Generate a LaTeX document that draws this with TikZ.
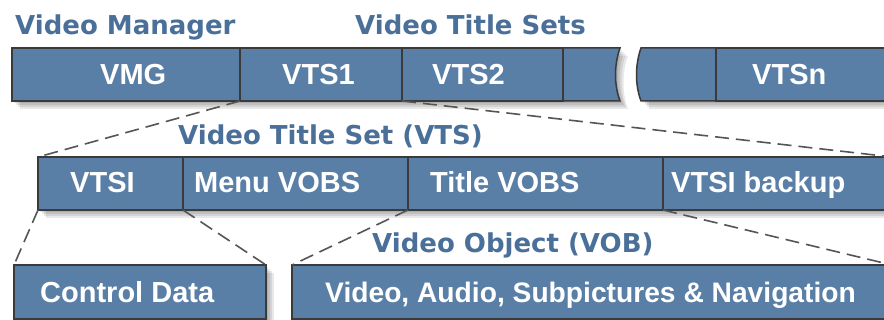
\documentclass[tikz,border=0pt]{standalone}
\usepackage{fontspec}
\setmainfont{Liberation Sans}
\newfontfamily\titlefont{DejaVu Sans}
\definecolor{boxblue}{RGB}{90,127,166}
\definecolor{titleblue}{RGB}{74,112,153}
\definecolor{edgegray}{RGB}{58,58,58}
\definecolor{dashgray}{RGB}{85,85,85}
\begin{document}
\begin{tikzpicture}[x=1pt,y=-1pt,
  cell/.style={draw=edgegray, line width=1.5pt, fill=boxblue, rectangle, inner sep=0pt, outer sep=0pt, anchor=north west, minimum height=53pt},
  cellshape/.style={draw=edgegray, line width=1.5pt, fill=boxblue},
  lbl/.style={text=white, font=\bfseries\fontsize{29}{34}\selectfont, inner sep=0pt, anchor=base west},
  ttl/.style={text=titleblue, font=\titlefont\bfseries\fontsize{26}{30}\selectfont, inner sep=0pt, anchor=base west},
  link/.style={draw=dashgray, line width=1.6pt, dash pattern=on 14pt off 7pt},
  shade/.style={fill=black, opacity=0.09}]
\useasboundingbox (0,0) rectangle (884,320);
\fill[white] (0,0) rectangle (884,320);
\clip (0,0) rectangle (884,320);

% shadows
\foreach \s in {2,4,6,8}{
  \fill[shade] (12+\s,48+\s) -- (620+\s,48+\s) .. controls (614+\s,65+\s) and (614+\s,85+\s) .. (620+\s,101+\s) -- (12+\s,101+\s) -- cycle;
  \fill[shade] (641+\s,48+\s) rectangle (900,101+\s);
  \fill[shade] (38+\s,157+\s) rectangle (900,210+\s);
  \fill[shade] (14+\s,265+\s) rectangle (266+\s,330);
  \fill[shade] (292+\s,265+\s) rectangle (900,330);
}

% titles
\node[ttl] (tvm) at (15,35) {Video Manager};
\node[ttl] (tvts) at (355,35) {Video Title Sets};
\node[ttl] (tvtsone) at (178,145) {Video Title Set (VTS)};
\node[ttl] (tvob) at (372,253) {Video Object (VOB)};

% row 1
\node[cell, minimum width=228pt] (vmg) at (12,48) {};
\node[cell, minimum width=162pt] (vts1) at (240,48) {};
\node[cell, minimum width=161pt] (vts2) at (402,48) {};
\path[cellshape] (563,48) -- (620,48) .. controls (614,65) and (614,85) .. (620,101) -- (563,101) -- cycle;
\path[cellshape] (641,48) -- (716,48) -- (716,101) -- (641,101) .. controls (635,85) and (635,65) .. (641,48) -- cycle;
\node[cell, minimum width=176pt] (vtsn) at (716,48) {};

% row 2
\node[cell, minimum width=145pt] (vtsi) at (38,157) {};
\node[cell, minimum width=225pt] (menu) at (183,157) {};
\node[cell, minimum width=255pt] (title) at (408,157) {};
\node[cell, minimum width=229pt] (backup) at (663,157) {};

% row 3
\node[cell, minimum width=252pt, minimum height=54pt] (ctrl) at (14,265) {};
\node[cell, minimum width=600pt, minimum height=54pt] (vob) at (292,265) {};

% labels
\node[lbl] (lvmg) at (100,85) {VMG};
\node[lbl] (lvts1) at (282,85) {VTS1};
\node[lbl] (lvts2) at (432,85) {VTS2};
\node[lbl] (lvtsn) at (752,85) {VTSn};
\node[lbl] (lvtsi) at (70,193) {VTSI};
\node[lbl] (lmenu) at (194,193) {Menu VOBS};
\node[lbl] (ltitle) at (430,193) {Title VOBS};
\node[lbl] (lbackup) at (671,193) {VTSI backup};
\node[lbl] (lctrl) at (40,303) {Control Data};
\node[lbl, font=\bfseries\fontsize{28.2}{34}\selectfont] (lvob) at (325,303) {Video, Audio, Subpictures \& Navigation};

% connectors
\draw[link] (vts1.south west) -- (vtsi.north west);
\draw[link] (vts2.south west) -- (backup.north east);
\draw[link] (vtsi.south west) -- (ctrl.north west);
\draw[link] (menu.south west) -- (ctrl.north east);
\draw[link] (title.south west) -- (vob.north west);
\draw[link] (backup.south west) -- (vob.north east);
\end{tikzpicture}
\end{document}
